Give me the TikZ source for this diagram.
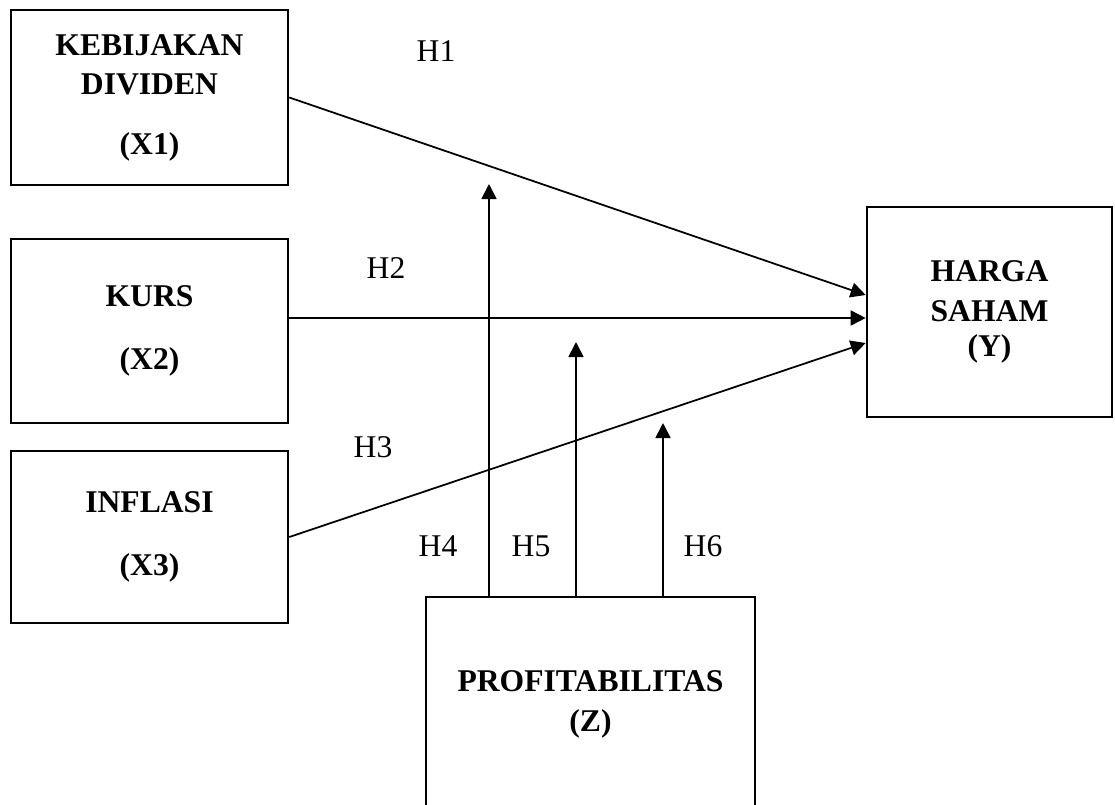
\documentclass[tikz,border=0pt]{standalone}
\usepackage{fontspec}
\setmainfont{Liberation Serif}
\usetikzlibrary{arrows.meta}
\begin{document}
\begin{tikzpicture}[
  var/.style={draw, line width=1.5pt, align=center, font=\bfseries\fontsize{18}{22.7}\selectfont},
  hyp/.style={font=\fontsize{18}{22.7}\selectfont},
  arr/.style={line width=1pt, -{Triangle[length=3mm,width=3mm]}}]

  \useasboundingbox (0,0) rectangle (22.3,-16.1);

  \node[var, minimum width=5.54cm, minimum height=3.5cm] (x1) at (2.99,-1.95) {KEBIJAKAN\\DIVIDEN\\[11pt](X1)};
  \node[var, minimum width=5.54cm, minimum height=3.68cm] (x2) at (2.99,-6.62) {KURS\\[13pt](X2)};
  \node[var, minimum width=5.54cm, minimum height=3.44cm] (x3) at (2.99,-10.74) {INFLASI\\[13pt](X3)};
  \node[var, minimum width=4.9cm, minimum height=4.2cm] (hs) at (19.79,-6.24) {HARGA\\SAHAM\\[-3pt](Y)};
  \node[var, minimum width=6.58cm, minimum height=4.28cm] (z) at (11.81,-14.08) {PROFITABILITAS\\(Z)};

  \draw[arr] (x1.east) -- ([yshift=3.4mm]hs.west);
  \draw[arr] ([yshift=2.6mm]x2.east) -- ([yshift=2.6mm]x2.east -| hs.west);
  \draw[arr] (x3.east) -- ([yshift=-6.2mm]hs.west);

  \coordinate (m1) at (9.78,-3.68);
  \coordinate (m2) at (11.52,-6.84);
  \coordinate (m3) at (13.26,-8.46);
  \draw[arr] (z.north -| m1) -- (m1);
  \draw[arr] (z.north -| m2) -- (m2);
  \draw[arr] (z.north -| m3) -- (m3);

  \node[hyp] (h1) at (8.72,-1.02) {H1};
  \node[hyp] (h2) at (7.72,-5.36) {H2};
  \node[hyp] (h3) at (7.46,-8.94) {H3};
  \node[hyp] (h4) at (8.76,-10.92) {H4};
  \node[hyp] (h5) at (10.62,-10.92) {H5};
  \node[hyp] (h6) at (14.06,-10.92) {H6};
\end{tikzpicture}
\end{document}
